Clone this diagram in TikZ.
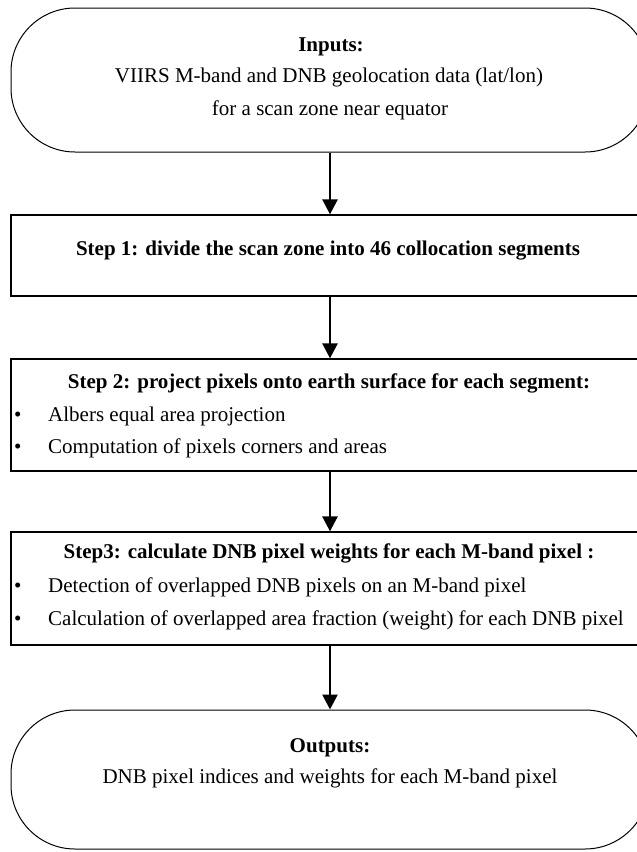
\documentclass[tikz,border=0pt]{standalone}
\usepackage{fontspec}
\setmainfont{Liberation Serif}
\usetikzlibrary{arrows.meta}
\begin{document}
\begin{tikzpicture}[x=1pt,y=-1pt,
  stepbox/.style={draw, line width=1.3pt, minimum width=638pt, inner sep=0pt},
  term/.style={draw, line width=1pt, rounded corners=64pt, minimum width=638pt, inner sep=0pt},
  flow/.style={line width=2.7pt, -{Triangle[length=15pt,width=15pt]}},
  txt/.style={font=\fontsize{21}{24}\selectfont, inner sep=0pt, anchor=mid},
  btxt/.style={font=\fontsize{21}{24}\selectfont\bfseries, inner sep=0pt, anchor=mid},
  ltxt/.style={font=\fontsize{21}{24}\selectfont, inner sep=0pt, anchor=mid west}
]
\useasboundingbox (0,0) rectangle (637,852);
% shapes
\node[term, minimum height=144pt] (inputs) at (330,80) {};
\node[stepbox, minimum height=81pt] (s1) at (330,255.5) {};
\node[stepbox, minimum height=112pt] (s2) at (330,415) {};
\node[stepbox, minimum height=113pt] (s3) at (330,588.5) {};
\node[term, minimum height=139pt] (outputs) at (330,779.5) {};
% texts
\node[btxt] (inA) at (331,49) {Inputs:};
\node[txt] (inB) at (329,80) {VIIRS M-band and DNB geolocation data (lat/lon)};
\node[txt] (inC) at (330,113) {for a scan zone near equator};
\node[btxt] (s1A) at (328,253) {Step 1: divide the scan zone into 46 collocation segments};
\node[btxt] (s2A) at (329,386) {Step 2: project pixels onto earth surface for each segment:};
\node[ltxt] (s2b1) at (14,419) {•};
\node[ltxt] (s2B) at (48,419) {Albers equal area projection};
\node[ltxt] (s2b2) at (14,451) {•};
\node[ltxt] (s2C) at (48,451) {Computation of pixels corners and areas};
\node[btxt] (s3A) at (329,556) {Step3: calculate DNB pixel weights for each M-band pixel :};
\node[ltxt] (s3b1) at (14,590) {•};
\node[ltxt] (s3B) at (48,590) {Detection of overlapped DNB pixels on an M-band pixel};
\node[ltxt] (s3b2) at (14,623) {•};
\node[ltxt] (s3C) at (48,623) {Calculation of overlapped area fraction (weight) for each DNB pixel};
\node[btxt] (outA) at (330,750) {Outputs:};
\node[txt] (outB) at (330,781) {DNB pixel indices and weights for each M-band pixel};
% connectors
\draw[flow] (inputs.south) -- (s1.north);
\draw[flow] (s1.south) -- (s2.north);
\draw[flow] (s2.south) -- (s3.north);
\draw[flow] (s3.south) -- (outputs.north);
\end{tikzpicture}
\end{document}
